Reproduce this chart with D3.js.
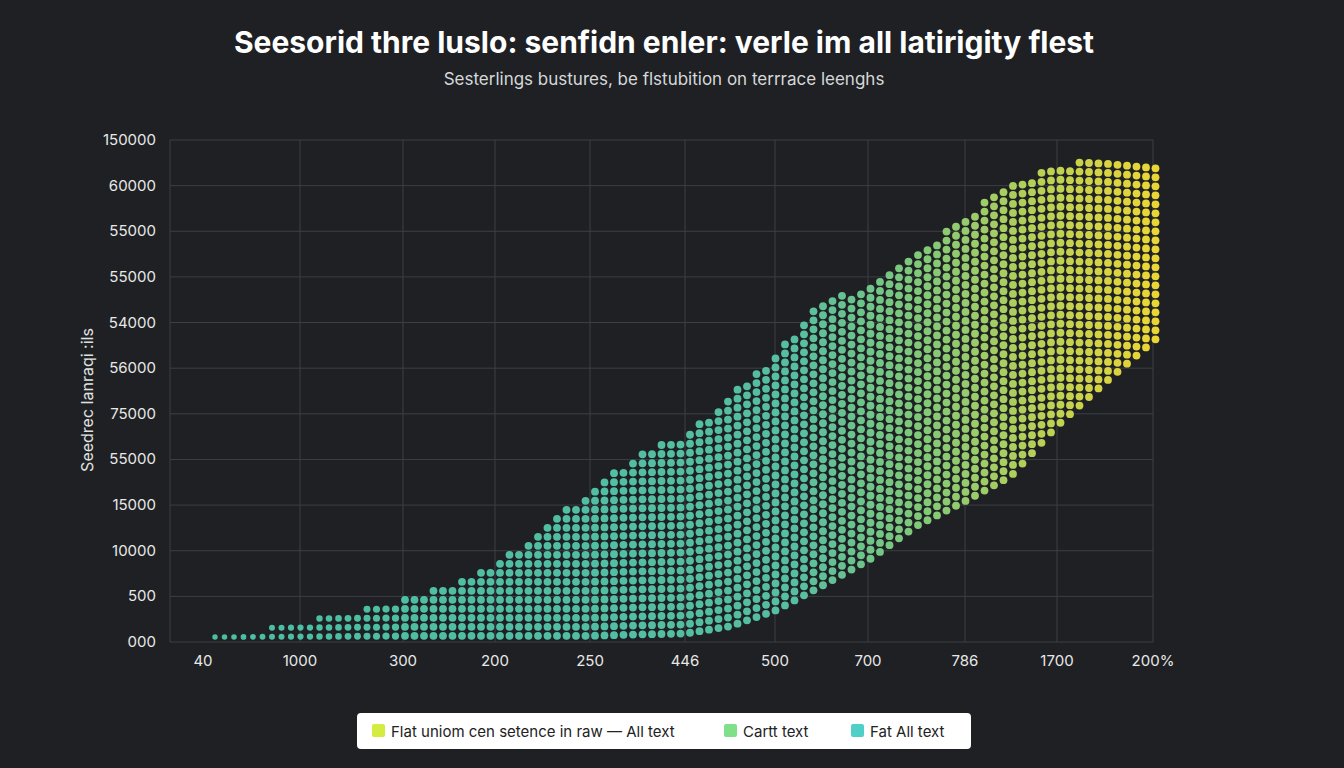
<!DOCTYPE html>
<html><head><meta charset="utf-8">
<script src="https://cdn.jsdelivr.net/npm/d3@7"></script>
<style>body{margin:0;background:#1e2023;}svg{display:block}</style>
</head><body><svg id="c" width="1344" height="768"></svg>
<script>
const xTickLabels=["40","1000","300","200","250","446","500","700","786","1700","200%"];
const yTickLabels=["000","500","10000","15000","55000","75000","56000","54000","55000","55000","60000","150000"];
// cloud envelope (x in tick-index units, y in tick-index units)
const envX=[0.2,1,1.5,2,2.5,3,3.5,4,4.5,5,5.5,6,6.5,7,7.5,8,8.5,9,9.5,10];
const envTop=[0.05,0.44,0.66,0.96,1.25,1.7,2.46,3.33,4.1,4.54,5.4,6.3,7.5,7.7,8.5,9.36,10.0,10.46,10.6,10.57];
const envBottom=[0.05,0.05,0.05,0.05,0.05,0.05,0.05,0.05,0.08,0.1,0.26,0.6,1.14,1.7,2.46,3.0,3.55,4.65,5.6,6.5];
const legendItems=[{label:"Flat uniom cen setence in raw — All text",color:"#d4ec3f"},{label:"Cartt text",color:"#7fe08a"},{label:"Fat All text",color:"#4fcfc8"}];

const svg=d3.select("#c");
const L=170,R=1153,T=140,B=642;
const x=d3.scaleLinear().domain(d3.range(11)).range([170,300,403,495,590,685,775,868,965,1057,1153]);
const y=d3.scaleLinear().domain([0,11]).range([B,T]);
svg.append("text").attr("x",664).attr("y",53).attr("text-anchor","middle").attr("fill","#fff")
 .attr("font-family","Inter, Roboto, sans-serif").attr("font-weight",700).attr("font-size",30)
 .text("Seesorid thre luslo: senfidn enler: verle im all latirigity flest");
svg.append("text").attr("x",664).attr("y",85).attr("text-anchor","middle").attr("fill","#d6d8da")
 .attr("font-family","Inter, Roboto, sans-serif").attr("font-size",17)
 .text("Sesterlings bustures, be flstubition on terrrace leenghs");
const g=svg.append("g");
g.selectAll(".vg").data(d3.range(11)).join("line").attr("x1",d=>x(d)).attr("x2",d=>x(d)).attr("y1",T).attr("y2",B).attr("stroke","#3c3f44");
g.selectAll(".hg").data(d3.range(12)).join("line").attr("x1",L).attr("x2",R).attr("y1",d=>y(d)).attr("y2",d=>y(d)).attr("stroke","#3c3f44");
g.selectAll(".yl").data(yTickLabels).join("text").attr("x",156).attr("y",(d,i)=>y(i)+5).attr("text-anchor","end")
 .attr("fill","#e8e8e8").attr("font-family","Inter, Roboto, sans-serif").attr("font-size",15).text(d=>d);
g.selectAll(".xl").data(xTickLabels).join("text").attr("x",(d,i)=>i==0?203:x(i)).attr("y",666).attr("text-anchor","middle")
 .attr("fill","#e8e8e8").attr("font-family","Inter, Roboto, sans-serif").attr("font-size",15).text(d=>d);
svg.append("text").attr("transform","translate(93,400) rotate(-90)").attr("text-anchor","middle").attr("fill","#e0e0e0")
 .attr("font-family","Inter, Roboto, sans-serif").attr("font-size",16).text("Seedrec lanraqi :ils");
const topI=d3.scaleLinear().domain(envX).range(envTop);
const botI=d3.scaleLinear().domain(envX).range(envBottom);
const col=d3.scaleLinear().domain([0,6.2,7.6,8.8]).range(["#4fcfb2","#5ccfb0","#8edc80","#c8e35c"]);
const dots=[];
for(let px=x(0.2);px<=x(10.05);px+=9.5){
  const xv=x.invert(px);
  const top=y(topI(xv)),bot=y(botI(xv));
  const r=xv<2?2.5+xv*0.6:3.9;
  for(let py=bot-r;py>=top;py-=9) dots.push({xv,px,py,r});
}
g.selectAll("circle").data(dots).join("circle").attr("cx",d=>d.px).attr("cy",d=>d.py).attr("r",d=>d.r)
 .attr("fill",d=>col(d.xv)).attr("opacity",0.9);
const lg=svg.append("g");
lg.append("rect").attr("x",357).attr("y",713).attr("width",614).attr("height",36).attr("rx",4).attr("fill","#fff");
const lx=[372,724,851];
legendItems.forEach((d,i)=>{
  lg.append("rect").attr("x",lx[i]).attr("y",724).attr("width",13).attr("height",13).attr("rx",2).attr("fill",d.color);
  lg.append("text").attr("x",lx[i]+19).attr("y",737).attr("fill","#222").attr("font-family","Inter, Roboto, sans-serif").attr("font-size",15).text(d.label);
});
</script></body></html>
